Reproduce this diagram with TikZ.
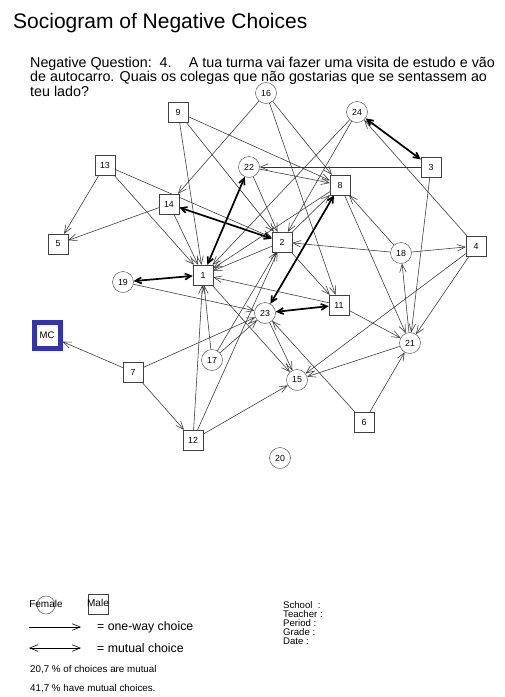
\documentclass[tikz,border=0pt]{standalone}
\usepackage{fontspec}
\setmainfont{Liberation Sans}
\usetikzlibrary{arrows.meta,backgrounds}

\begin{document}
\begin{tikzpicture}[x=1pt,y=-1pt,
        female/.style={
        circle, draw=black!75,
        inner sep=0pt, minimum size=21pt,
        fill=white, font=\fontsize{8.8}{9}\selectfont},
        male/.style={
        rectangle, draw=black!75,
        inner sep=0pt, minimum size=20pt,
        fill=white, font=\fontsize{8.8}{9}\selectfont},
        choice/.style={
        draw=black!80, line width=0.55pt,
        -{Straight Barb[length=8pt,width=6.5pt]}},
        mutual/.style={
        draw=black, line width=1.7pt,
        {Straight Barb[length=6pt,width=6pt]}-{Straight Barb[length=6pt,width=6pt]}},
        smalltext/.style={inner sep=0pt, anchor=west},
        ]
        \useasboundingbox (0,0) rectangle (505,697);

        \node (title) [smalltext, anchor=base west, font=\fontsize{21}{21}\selectfont] at (13,28) {Sociogram of Negative Choices};
        \node (question) [smalltext, anchor=north west, align=left, font=\fontsize{14.3}{14.3}\selectfont] at (30,57)
        {Negative Question:\ \ 4.\hspace{1.2em}A tua turma vai fazer uma visita de estudo e vão\\
         de autocarro. Quais os colegas que não gostarias que se sentassem ao\\
         teu lado?};

        % students
        \node (n16) [female] at (266,93) {16};
        \node (n9)  [male]   at (178,112) {9};
        \node (n24) [female] at (357,112) {24};
        \node (n13) [male]   at (105,165) {13};
        \node (n22) [female] at (249,167) {22};
        \node (n3)  [male]   at (431,167) {3};
        \node (n8)  [male]   at (340,185) {8};
        \node (n14) [male]   at (169,204) {14};
        \node (n5)  [male]   at (58,244) {5};
        \node (n2)  [male]   at (282,242) {2};
        \node (n18) [female] at (401,253) {18};
        \node (n4)  [male]   at (476,246) {4};
        \node (n19) [female] at (123,282) {19};
        \node (n1)  [male]   at (203,275) {1};
        \node (n11) [male]   at (339,305) {11};
        \node (n23) [female] at (265,313) {23};
        \node (mc)  [male, draw=blue!60!black!80, line width=5pt, minimum size=26pt,
                     font=\fontsize{9.5}{10}\selectfont] at (47,335) {MC};
        \node (n21) [female] at (410,343) {21};
        \node (n7)  [male]   at (133,372) {7};
        \node (n17) [female] at (212,360) {17};
        \node (n15) [female] at (297,380) {15};
        \node (n6)  [male]   at (364,422) {6};
        \node (n12) [male]   at (193,440) {12};
        \node (n20) [female] at (280,458) {20};

        \begin{pgfonlayer}{background}
        \fill[white] (0,0) rectangle (505,697);
        % one-way choices
        \draw[choice] (n9) -- (n1);   \draw[choice] (n9) -- (n2);   \draw[choice] (n9) -- (n8);
        \draw[choice] (n16) -- (n14); \draw[choice] (n16) -- (n8);  \draw[choice] (n16) -- (n11);
        \draw[choice] (n24) -- (n1);  \draw[choice] (n24) -- (n2);
        \draw[choice] (n13) -- (n5);  \draw[choice] (n13) -- (n1);  \draw[choice] (n13) -- (n2);
        \draw[choice] (n14) -- (n5);  \draw[choice] (n14) -- (n1);
        \draw[choice] (n3) -- (n22);  \draw[choice] (n3) -- (n21);
        \draw[choice] (n22) -- (n2);  \draw[choice] (n22) -- (n8);
        \draw[choice] (n2) -- (n1);   \draw[choice] (n2) -- (n11);  \draw[choice] (n2) -- (n8);
        \draw[choice] (n8) -- (n1);   \draw[choice] (n8) -- (n21);
        \draw[choice] (n18) -- (n2);  \draw[choice] (n18) -- (n4);  \draw[choice] (n18) -- (n8);
        \draw[choice] (n4) -- (n24);  \draw[choice] (n4) -- (n21);  \draw[choice] (n4) -- (n15);
        \draw[choice] (n21) -- (n18); \draw[choice] (n21) -- (n15);
        \draw[choice] (n11) -- (n1);  \draw[choice] (n11) -- (n21);
        \draw[choice] (n19) -- (n23);
        \draw[choice] (n1) -- (n15);
        \draw[choice] (n17) -- (n1);  \draw[choice] (n17) -- (n2);  \draw[choice] (n17) -- (n23);
        \draw[choice] (n7) -- (mc);   \draw[choice] (n7) -- (n12);  \draw[choice] (n7) -- (n23);
        \draw[choice] (n12) -- (n1);  \draw[choice] (n12) -- (n2);  \draw[choice] (n12) -- (n15);
        \draw[choice] (n6) -- (n21);  \draw[choice] (n6) -- (n23);
        \draw[choice] (n23) -- (n15);
        % mutual choices
        \draw[mutual] (n24) -- (n3);
        \draw[mutual] (n14) -- (n2);
        \draw[mutual] (n22) -- (n1);
        \draw[mutual] (n19) -- (n1);
        \draw[mutual] (n23) -- (n11);
        \draw[mutual] (n23) -- (n8);
        \end{pgfonlayer}

        % legend
        \node (femshape) [female, minimum size=18pt] at (46,605) {};
        \node (femtext) [font=\fontsize{10}{10}\selectfont, inner sep=0pt] at (46,604) {Female};
        \node (maleshape) [male, minimum size=20pt] at (98,604) {};
        \node (maletext) [font=\fontsize{10}{10}\selectfont, inner sep=0pt] at (98,603) {Male};
        \coordinate (one1) at (29,627);
        \coordinate (one2) at (81,627);
        \draw[choice, draw=black, line width=0.6pt] (one1) -- (one2);
        \node (onetext) [smalltext, font=\fontsize{12.3}{13}\selectfont] at (97,627) {= one-way choice};
        \coordinate (mut1) at (29,648);
        \coordinate (mut2) at (81,648);
        \draw[choice, draw=black, line width=0.6pt, {Straight Barb[length=8pt,width=6.5pt]}-{Straight Barb[length=8pt,width=6.5pt]}] (mut1) -- (mut2);
        \node (muttext) [smalltext, font=\fontsize{12.3}{13}\selectfont] at (97,648) {= mutual choice};
        \node (stat1) [smalltext, font=\fontsize{9.8}{10}\selectfont] at (30,670) {20,7 \% of choices are mutual};
        \node (stat2) [smalltext, font=\fontsize{9.8}{10}\selectfont] at (30,689) {41,7 \% have mutual choices.};

        \node (school) [smalltext, anchor=north west, align=left, font=\fontsize{9.6}{9.2}\selectfont] at (283,601)
        {School\ \ :\\ Teacher :\\ Period :\\ Grade :\\ Date :};
    \end{tikzpicture}
\end{document}
